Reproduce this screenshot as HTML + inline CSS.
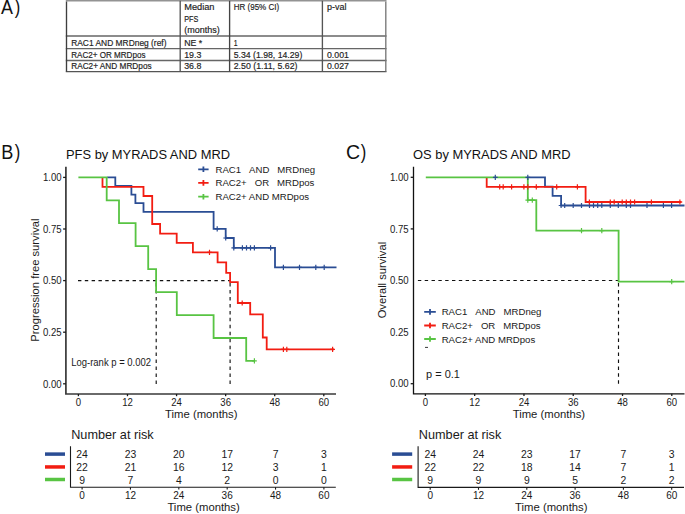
<!DOCTYPE html>
<html><head><meta charset="utf-8"><style>
html,body{margin:0;padding:0;background:#fff;}
body{width:685px;height:514px;overflow:hidden;position:relative;}
svg{position:absolute;left:0;top:0;}
text{font-family:"Liberation Sans",sans-serif;}
</style></head><body>
<svg width="685" height="514" viewBox="0 0 685 514">

<text transform="translate(1.1 14) scale(0.92 1)" font-size="19.5" fill="#111">A</text>
<text transform="translate(14.75 14) scale(0.85 1)" font-size="19.5" fill="#111">)</text>
<line x1="65.8" y1="0.75" x2="386.5" y2="0.75" stroke="#939393" stroke-width="1.5"/>
<line x1="65.8" y1="36.0" x2="386.5" y2="36.0" stroke="#666" stroke-width="1.3"/>
<line x1="65.8" y1="48.6" x2="386.5" y2="48.6" stroke="#666" stroke-width="1.3"/>
<line x1="65.8" y1="60.5" x2="386.5" y2="60.5" stroke="#666" stroke-width="1.3"/>
<line x1="65.8" y1="71.6" x2="386.5" y2="71.6" stroke="#555" stroke-width="1.4"/>
<line x1="66.5" y1="1.5" x2="66.5" y2="71.6" stroke="#3e3e3e" stroke-width="1.35"/>
<line x1="180.2" y1="0.75" x2="180.2" y2="71.6" stroke="#555" stroke-width="1.35"/>
<line x1="229.6" y1="0.75" x2="229.6" y2="71.6" stroke="#444" stroke-width="1.35"/>
<line x1="322.4" y1="0.75" x2="322.4" y2="71.6" stroke="#555" stroke-width="1.35"/>
<line x1="385.8" y1="1.5" x2="385.8" y2="71.6" stroke="#777" stroke-width="1.35"/>
<text x="184.2" y="10.1" font-size="9.0" fill="#1e1e1e" stroke="#1e1e1e" stroke-width="0.18" textLength="30.3" lengthAdjust="spacingAndGlyphs">Median</text>
<text x="184.2" y="21.9" font-size="9.0" fill="#1e1e1e" stroke="#1e1e1e" stroke-width="0.18" textLength="14.1" lengthAdjust="spacingAndGlyphs">PFS</text>
<text x="184.2" y="33.3" font-size="9.0" fill="#1e1e1e" stroke="#1e1e1e" stroke-width="0.18" textLength="35.5" lengthAdjust="spacingAndGlyphs">(months)</text>
<text x="233.7" y="10.1" font-size="9.0" fill="#1e1e1e" stroke="#1e1e1e" stroke-width="0.18" textLength="45.5" lengthAdjust="spacingAndGlyphs">HR (95% CI)</text>
<text x="327" y="10.1" font-size="9.0" fill="#1e1e1e" stroke="#1e1e1e" stroke-width="0.18" textLength="19.4" lengthAdjust="spacingAndGlyphs">p-val</text>
<text x="71.2" y="45.6" font-size="9.0" fill="#1e1e1e" stroke="#1e1e1e" stroke-width="0.18" textLength="95.3" lengthAdjust="spacingAndGlyphs">RAC1 AND MRDneg (ref)</text>
<text x="71.2" y="57.5" font-size="9.0" fill="#1e1e1e" stroke="#1e1e1e" stroke-width="0.18" textLength="74.3" lengthAdjust="spacingAndGlyphs">RAC2+ OR MRDpos</text>
<text x="71.2" y="69.4" font-size="9.0" fill="#1e1e1e" stroke="#1e1e1e" stroke-width="0.18" textLength="80.4" lengthAdjust="spacingAndGlyphs">RAC2+ AND MRDpos</text>
<text x="184.2" y="45.6" font-size="9.0" fill="#1e1e1e" stroke="#1e1e1e" stroke-width="0.18" textLength="18" lengthAdjust="spacingAndGlyphs">NE *</text>
<text x="184.2" y="57.5" font-size="9.0" fill="#1e1e1e" stroke="#1e1e1e" stroke-width="0.18" textLength="17.2" lengthAdjust="spacingAndGlyphs">19.3</text>
<text x="184.2" y="69.4" font-size="9.0" fill="#1e1e1e" stroke="#1e1e1e" stroke-width="0.18" textLength="17.2" lengthAdjust="spacingAndGlyphs">36.8</text>
<text x="233.7" y="45.6" font-size="9.0" fill="#1e1e1e" stroke="#1e1e1e" stroke-width="0.18" textLength="3.8" lengthAdjust="spacingAndGlyphs">1</text>
<text x="233.7" y="57.5" font-size="9.0" fill="#1e1e1e" stroke="#1e1e1e" stroke-width="0.18" textLength="68.6" lengthAdjust="spacingAndGlyphs">5.34 (1.98, 14.29)</text>
<text x="233.7" y="69.4" font-size="9.0" fill="#1e1e1e" stroke="#1e1e1e" stroke-width="0.18" textLength="63.8" lengthAdjust="spacingAndGlyphs">2.50 (1.11, 5.62)</text>
<text x="327" y="57.5" font-size="9.0" fill="#1e1e1e" stroke="#1e1e1e" stroke-width="0.18" textLength="21.9" lengthAdjust="spacingAndGlyphs">0.001</text>
<text x="327" y="69.4" font-size="9.0" fill="#1e1e1e" stroke="#1e1e1e" stroke-width="0.18" textLength="21.9" lengthAdjust="spacingAndGlyphs">0.027</text>
<text transform="translate(1.2 159) scale(0.93 1)" font-size="19.5" fill="#111">B</text>
<text transform="translate(14.75 159) scale(0.85 1)" font-size="19.5" fill="#111">)</text>
<text x="66" y="159.3" font-size="12.9" text-anchor="start" fill="#111" >PFS by MYRADS AND MRD</text>
<path d="M65.9 166.8V394.0H336" stroke="#3a3a3a" stroke-width="1.7" fill="none"/>
<line x1="63.10000000000001" y1="383.8" x2="65.9" y2="383.8" stroke="#1a1a1a" stroke-width="1.3"/>
<text transform="translate(61.6 387.55) scale(1 1.13)" font-size="9.6" text-anchor="end" fill="#1a1a1a">0.00</text>
<line x1="63.10000000000001" y1="332.2" x2="65.9" y2="332.2" stroke="#1a1a1a" stroke-width="1.3"/>
<text transform="translate(61.6 335.95) scale(1 1.13)" font-size="9.6" text-anchor="end" fill="#1a1a1a">0.25</text>
<line x1="63.10000000000001" y1="280.6" x2="65.9" y2="280.6" stroke="#1a1a1a" stroke-width="1.3"/>
<text transform="translate(61.6 284.35) scale(1 1.13)" font-size="9.6" text-anchor="end" fill="#1a1a1a">0.50</text>
<line x1="63.10000000000001" y1="229.0" x2="65.9" y2="229.0" stroke="#1a1a1a" stroke-width="1.3"/>
<text transform="translate(61.6 232.75) scale(1 1.13)" font-size="9.6" text-anchor="end" fill="#1a1a1a">0.75</text>
<line x1="63.10000000000001" y1="177.4" x2="65.9" y2="177.4" stroke="#1a1a1a" stroke-width="1.3"/>
<text transform="translate(61.6 181.15) scale(1 1.13)" font-size="9.6" text-anchor="end" fill="#1a1a1a">1.00</text>
<line x1="78.4" y1="394.0" x2="78.4" y2="396.2" stroke="#1a1a1a" stroke-width="1.3"/>
<text transform="translate(78.4 405.8) scale(1 1.13)" font-size="9.6" text-anchor="middle" fill="#1a1a1a">0</text>
<line x1="127.48000000000002" y1="394.0" x2="127.48000000000002" y2="396.2" stroke="#1a1a1a" stroke-width="1.3"/>
<text transform="translate(127.48 405.8) scale(1 1.13)" font-size="9.6" text-anchor="middle" fill="#1a1a1a">12</text>
<line x1="176.56" y1="394.0" x2="176.56" y2="396.2" stroke="#1a1a1a" stroke-width="1.3"/>
<text transform="translate(176.56 405.8) scale(1 1.13)" font-size="9.6" text-anchor="middle" fill="#1a1a1a">24</text>
<line x1="225.64" y1="394.0" x2="225.64" y2="396.2" stroke="#1a1a1a" stroke-width="1.3"/>
<text transform="translate(225.64 405.8) scale(1 1.13)" font-size="9.6" text-anchor="middle" fill="#1a1a1a">36</text>
<line x1="274.72" y1="394.0" x2="274.72" y2="396.2" stroke="#1a1a1a" stroke-width="1.3"/>
<text transform="translate(274.72 405.8) scale(1 1.13)" font-size="9.6" text-anchor="middle" fill="#1a1a1a">48</text>
<line x1="323.8" y1="394.0" x2="323.8" y2="396.2" stroke="#1a1a1a" stroke-width="1.3"/>
<text transform="translate(323.8 405.8) scale(1 1.13)" font-size="9.6" text-anchor="middle" fill="#1a1a1a">60</text>
<text x="201.3" y="417.8" font-size="11.3" text-anchor="middle" fill="#1a1a1a" >Time (months)</text>
<text transform="translate(38.6 280.1) rotate(-90)" font-size="11.2" text-anchor="middle" fill="#1a1a1a">Progression free survival</text>
<path d="M78.0 280.6H230.1" stroke="#111" stroke-width="1.15" stroke-dasharray="3.4 3.42" fill="none"/>
<path d="M156.2 383.9V280.6M230.1 383.9V280.6" stroke="#111" stroke-width="1.15" stroke-dasharray="3.5 3.45" fill="none"/>
<path d="M107.2 177.4H115.3V186H131.4V194.6H135.4V203.2H143.5V211.8H213.6V228.8H225.7V238H233.8V247.9H275V267.3H336.5" stroke="#2a4d94" stroke-width="1.8" fill="none" stroke-linejoin="miter" stroke-linecap="butt"/>
<path d="M102.5 177.4H102.5V186.8H143.5V196H152.2V224H160.1V233.6H176.7V242.8H192.9V252.3H217.6V262.4H226.2V272.8H230.1V282.2H237.8V303H250.2V314.3H262.8V337.5H266.7V349.3H334" stroke="#f21d12" stroke-width="1.8" fill="none" stroke-linejoin="miter" stroke-linecap="butt"/>
<path d="M78.4 177.4H106.7V200.3H119V223.2H135.6V246.2H148.2V269.1H156.1V292.1H176.8V315.1H213.6V338H246.2V360.9H254.4" stroke="#58c443" stroke-width="1.8" fill="none" stroke-linejoin="miter" stroke-linecap="butt"/>
<path d="M217.2 226.2V231.4M214.8 228.8H219.6M225.7 235.4V240.6M223.3 238H228.1M233.8 245.3V250.5M231.4 247.9H236.2M242.4 245.3V250.5M240 247.9H244.8M246.5 245.3V250.5M244.1 247.9H248.9M250.5 245.3V250.5M248.1 247.9H252.9M254.4 245.3V250.5M252 247.9H256.8M270.6 245.3V250.5M268.2 247.9H273M283.4 264.7V269.9M281 267.3H285.8M299.5 264.7V269.9M297.1 267.3H301.9M315.8 264.7V269.9M313.4 267.3H318.2M324.2 264.7V269.9M321.8 267.3H326.6" stroke="#2a4d94" stroke-width="1.2" fill="none"/>
<path d="M209.5 249.7V254.9M207.1 252.3H211.9M242.2 300.4V305.6M239.8 303H244.6M283.4 346.7V351.9M281 349.3H285.8M286.8 346.7V351.9M284.4 349.3H289.2M332.6 346.7V351.9M330.2 349.3H335" stroke="#f21d12" stroke-width="1.2" fill="none"/>
<path d="M254.4 358.3V363.5M252 360.9H256.8" stroke="#58c443" stroke-width="1.2" fill="none"/>
<path d="M198.2 169.3H208.6M203.4 166.5V172.10000000000002" stroke="#2a4d94" stroke-width="1.8" fill="none"/>
<text x="215.5" y="172.8" font-size="9.6" text-anchor="start" fill="#1a1a1a" >RAC1&#160;&#160;&#160;AND&#160;&#160;&#160;MRDneg</text>
<path d="M198.2 182.9H208.6M203.4 180.1V185.70000000000002" stroke="#f21d12" stroke-width="1.8" fill="none"/>
<text x="215.5" y="186.4" font-size="9.6" text-anchor="start" fill="#1a1a1a" >RAC2+&#160;&#160;&#160;OR&#160;&#160;&#160;MRDpos</text>
<path d="M198.2 196.7H208.6M203.4 193.89999999999998V199.5" stroke="#58c443" stroke-width="1.8" fill="none"/>
<text x="215.5" y="200.2" font-size="9.6" text-anchor="start" fill="#1a1a1a" >RAC2+ AND MRDpos</text>
<text transform="translate(71.2 365.9) scale(1 1.1)" font-size="9.5" text-anchor="start" fill="#1a1a1a">Log-rank p = 0.002</text>
<text x="346" y="159.1" font-size="19.5" text-anchor="start" fill="#111" >C</text>
<text transform="translate(360.85 159.1) scale(0.85 1)" font-size="19.5" fill="#111">)</text>
<text x="413" y="159.3" font-size="12.9" text-anchor="start" fill="#111" >OS by MYRADS AND MRD</text>
<path d="M413.5 166.8V393.8H684.5" stroke="#111" stroke-width="1.3" fill="none"/>
<line x1="410.7" y1="383.7" x2="413.5" y2="383.7" stroke="#1a1a1a" stroke-width="1.3"/>
<text transform="translate(408.7 387.45) scale(1 1.13)" font-size="9.6" text-anchor="end" fill="#1a1a1a">0.00</text>
<text transform="translate(408.7 335.85) scale(1 1.13)" font-size="9.6" text-anchor="end" fill="#1a1a1a">0.25</text>
<text transform="translate(408.7 284.25) scale(1 1.13)" font-size="9.6" text-anchor="end" fill="#1a1a1a">0.50</text>
<line x1="410.7" y1="228.89999999999998" x2="413.5" y2="228.89999999999998" stroke="#1a1a1a" stroke-width="1.3"/>
<text transform="translate(408.7 232.65) scale(1 1.13)" font-size="9.6" text-anchor="end" fill="#1a1a1a">0.75</text>
<line x1="410.7" y1="177.29999999999998" x2="413.5" y2="177.29999999999998" stroke="#1a1a1a" stroke-width="1.3"/>
<text transform="translate(408.7 181.05) scale(1 1.13)" font-size="9.6" text-anchor="end" fill="#1a1a1a">1.00</text>
<line x1="425.4" y1="393.8" x2="425.4" y2="396.0" stroke="#1a1a1a" stroke-width="1.3"/>
<text transform="translate(425.4 405.8) scale(1 1.13)" font-size="9.6" text-anchor="middle" fill="#1a1a1a">0</text>
<line x1="474.67999999999995" y1="393.8" x2="474.67999999999995" y2="396.0" stroke="#1a1a1a" stroke-width="1.3"/>
<text transform="translate(474.68 405.8) scale(1 1.13)" font-size="9.6" text-anchor="middle" fill="#1a1a1a">12</text>
<line x1="523.96" y1="393.8" x2="523.96" y2="396.0" stroke="#1a1a1a" stroke-width="1.3"/>
<text transform="translate(523.96 405.8) scale(1 1.13)" font-size="9.6" text-anchor="middle" fill="#1a1a1a">24</text>
<line x1="573.24" y1="393.8" x2="573.24" y2="396.0" stroke="#1a1a1a" stroke-width="1.3"/>
<text transform="translate(573.24 405.8) scale(1 1.13)" font-size="9.6" text-anchor="middle" fill="#1a1a1a">36</text>
<line x1="622.52" y1="393.8" x2="622.52" y2="396.0" stroke="#1a1a1a" stroke-width="1.3"/>
<text transform="translate(622.52 405.8) scale(1 1.13)" font-size="9.6" text-anchor="middle" fill="#1a1a1a">48</text>
<line x1="671.8" y1="393.8" x2="671.8" y2="396.0" stroke="#1a1a1a" stroke-width="1.3"/>
<text transform="translate(671.8 405.8) scale(1 1.13)" font-size="9.6" text-anchor="middle" fill="#1a1a1a">60</text>
<text x="548.9" y="418" font-size="11.3" text-anchor="middle" fill="#1a1a1a" >Time (months)</text>
<text transform="translate(385.9 280.1) rotate(-90)" font-size="11.2" text-anchor="middle" fill="#1a1a1a">Overall survival</text>
<path d="M417.9 280.5H618.5" stroke="#111" stroke-width="1.15" stroke-dasharray="3.4 3.42" fill="none"/>
<path d="M618.5 383.8V280.5" stroke="#111" stroke-width="1.15" stroke-dasharray="3.5 3.45" fill="none"/>
<path d="M528.3 177.3H545V186.6H552.6V195.9H561.1V205.5H684.5" stroke="#2a4d94" stroke-width="1.8" fill="none" stroke-linejoin="miter" stroke-linecap="butt"/>
<path d="M486.7 177.3H486.7V186.8H585.6V202H681.5" stroke="#f21d12" stroke-width="1.8" fill="none" stroke-linejoin="miter" stroke-linecap="butt"/>
<path d="M425.8 177.3H527.8V200.2H536.3V230.7H618.6V281.7H684.5" stroke="#58c443" stroke-width="1.8" fill="none" stroke-linejoin="miter" stroke-linecap="butt"/>
<path d="M495.3 174.7V179.9M492.9 177.3H497.7M527.8 174.7V179.9M525.4 177.3H530.2M561.1 202.9V208.1M558.7 205.5H563.5M564.7 202.9V208.1M562.3 205.5H567.1M573.2 202.9V208.1M570.8 205.5H575.6M581.5 202.9V208.1M579.1 205.5H583.9M589.5 202.9V208.1M587.1 205.5H591.9M593.5 202.9V208.1M591.1 205.5H595.9M597.7 202.9V208.1M595.3 205.5H600.1M601.8 202.9V208.1M599.4 205.5H604.2M610.3 202.9V208.1M607.9 205.5H612.7M618.3 202.9V208.1M615.9 205.5H620.7M626.3 202.9V208.1M623.9 205.5H628.7M630.5 202.9V208.1M628.1 205.5H632.9M647 202.9V208.1M644.6 205.5H649.4M663.4 202.9V208.1M661 205.5H665.8M671.6 202.9V208.1M669.2 205.5H674" stroke="#2a4d94" stroke-width="1.2" fill="none"/>
<path d="M499.7 184.2V189.4M497.3 186.8H502.1M503.2 184.2V189.4M500.8 186.8H505.6M511.6 184.2V189.4M509.2 186.8H514M523.9 184.2V189.4M521.5 186.8H526.3M527.8 184.2V189.4M525.4 186.8H530.2M536.3 184.2V189.4M533.9 186.8H538.7M556.7 184.2V189.4M554.3 186.8H559.1M577.4 184.2V189.4M575 186.8H579.8M589.4 199.4V204.6M587 202H591.8M610.3 199.4V204.6M607.9 202H612.7M614.2 199.4V204.6M611.8 202H616.6M622.2 199.4V204.6M619.8 202H624.6M626.3 199.4V204.6M623.9 202H628.7M630.5 199.4V204.6M628.1 202H632.9M634.6 199.4V204.6M632.2 202H637M651.4 199.4V204.6M649 202H653.8M679.9 199.4V204.6M677.5 202H682.3" stroke="#f21d12" stroke-width="1.2" fill="none"/>
<path d="M527.8 197.6V202.8M525.4 200.2H530.2M532.3 197.6V202.8M529.9 200.2H534.7M581.5 228.1V233.3M579.1 230.7H583.9M601.8 228.1V233.3M599.4 230.7H604.2M671.7 279.1V284.3M669.3 281.7H674.1" stroke="#58c443" stroke-width="1.2" fill="none"/>
<path d="M424.2 311.9H435.8M430 309.09999999999997V314.7" stroke="#2a4d94" stroke-width="1.8" fill="none"/>
<text x="441.7" y="315.4" font-size="9.6" text-anchor="start" fill="#1a1a1a" >RAC1&#160;&#160;&#160;AND&#160;&#160;&#160;MRDneg</text>
<path d="M424.2 325.5H435.8M430 322.7V328.3" stroke="#f21d12" stroke-width="1.8" fill="none"/>
<text x="441.7" y="329" font-size="9.6" text-anchor="start" fill="#1a1a1a" >RAC2+&#160;&#160;&#160;OR&#160;&#160;&#160;MRDpos</text>
<path d="M424.2 339.0H435.8M430 336.2V341.8" stroke="#58c443" stroke-width="1.8" fill="none"/>
<text x="441.7" y="342.5" font-size="9.6" text-anchor="start" fill="#1a1a1a" >RAC2+ AND MRDpos</text>
<line x1="425" y1="347.4" x2="428" y2="347.4" stroke="#222" stroke-width="0.9"/>
<text transform="translate(426 377.8) scale(1 1.05)" font-size="11.0" text-anchor="start" fill="#1a1a1a">p = 0.1</text>
<text x="71.2" y="438.6" font-size="12.7" text-anchor="start" fill="#1a1a1a" >Number at risk</text>
<line x1="45" y1="454.1" x2="65" y2="454.1" stroke="#2a4d94" stroke-width="3.5"/>
<line x1="45" y1="466.95" x2="65" y2="466.95" stroke="#f21d12" stroke-width="3.5"/>
<line x1="45" y1="479.5" x2="65" y2="479.5" stroke="#58c443" stroke-width="3.5"/>
<path d="M70.5 446.2V487.2H335.8" stroke="#1a1a1a" stroke-width="1.1" fill="none"/>
<line x1="82.1" y1="487.2" x2="82.1" y2="489.59999999999997" stroke="#1a1a1a" stroke-width="1.1"/>
<text x="82.1" y="498.6" font-size="10" text-anchor="middle" fill="#1a1a1a" >0</text>
<text x="82.1" y="458" font-size="10.4" text-anchor="middle" fill="#1a1a1a" >24</text>
<text x="82.1" y="470.6" font-size="10.4" text-anchor="middle" fill="#1a1a1a" >22</text>
<text x="82.1" y="484" font-size="10.4" text-anchor="middle" fill="#1a1a1a" >9</text>
<line x1="130.45999999999998" y1="487.2" x2="130.45999999999998" y2="489.59999999999997" stroke="#1a1a1a" stroke-width="1.1"/>
<text x="130.46" y="498.6" font-size="10" text-anchor="middle" fill="#1a1a1a" >12</text>
<text x="130.46" y="458" font-size="10.4" text-anchor="middle" fill="#1a1a1a" >23</text>
<text x="130.46" y="470.6" font-size="10.4" text-anchor="middle" fill="#1a1a1a" >21</text>
<text x="130.46" y="484" font-size="10.4" text-anchor="middle" fill="#1a1a1a" >7</text>
<line x1="178.82" y1="487.2" x2="178.82" y2="489.59999999999997" stroke="#1a1a1a" stroke-width="1.1"/>
<text x="178.82" y="498.6" font-size="10" text-anchor="middle" fill="#1a1a1a" >24</text>
<text x="178.82" y="458" font-size="10.4" text-anchor="middle" fill="#1a1a1a" >20</text>
<text x="178.82" y="470.6" font-size="10.4" text-anchor="middle" fill="#1a1a1a" >16</text>
<text x="178.82" y="484" font-size="10.4" text-anchor="middle" fill="#1a1a1a" >4</text>
<line x1="227.17999999999998" y1="487.2" x2="227.17999999999998" y2="489.59999999999997" stroke="#1a1a1a" stroke-width="1.1"/>
<text x="227.18" y="498.6" font-size="10" text-anchor="middle" fill="#1a1a1a" >36</text>
<text x="227.18" y="458" font-size="10.4" text-anchor="middle" fill="#1a1a1a" >17</text>
<text x="227.18" y="470.6" font-size="10.4" text-anchor="middle" fill="#1a1a1a" >12</text>
<text x="227.18" y="484" font-size="10.4" text-anchor="middle" fill="#1a1a1a" >2</text>
<line x1="275.53999999999996" y1="487.2" x2="275.53999999999996" y2="489.59999999999997" stroke="#1a1a1a" stroke-width="1.1"/>
<text x="275.54" y="498.6" font-size="10" text-anchor="middle" fill="#1a1a1a" >48</text>
<text x="275.54" y="458" font-size="10.4" text-anchor="middle" fill="#1a1a1a" >7</text>
<text x="275.54" y="470.6" font-size="10.4" text-anchor="middle" fill="#1a1a1a" >3</text>
<text x="275.54" y="484" font-size="10.4" text-anchor="middle" fill="#1a1a1a" >0</text>
<line x1="323.9" y1="487.2" x2="323.9" y2="489.59999999999997" stroke="#1a1a1a" stroke-width="1.1"/>
<text x="323.9" y="498.6" font-size="10" text-anchor="middle" fill="#1a1a1a" >60</text>
<text x="323.9" y="458" font-size="10.4" text-anchor="middle" fill="#1a1a1a" >3</text>
<text x="323.9" y="470.6" font-size="10.4" text-anchor="middle" fill="#1a1a1a" >1</text>
<text x="323.9" y="484" font-size="10.4" text-anchor="middle" fill="#1a1a1a" >0</text>
<text x="203.6" y="511.2" font-size="11.3" text-anchor="middle" fill="#1a1a1a" >Time (months)</text>
<text x="418.8" y="438.6" font-size="12.7" text-anchor="start" fill="#1a1a1a" >Number at risk</text>
<line x1="392.1" y1="454.1" x2="412.2" y2="454.1" stroke="#2a4d94" stroke-width="3.5"/>
<line x1="392.1" y1="466.95" x2="412.2" y2="466.95" stroke="#f21d12" stroke-width="3.5"/>
<line x1="392.1" y1="479.5" x2="412.2" y2="479.5" stroke="#58c443" stroke-width="3.5"/>
<path d="M418.1 446.2V487.4H684" stroke="#1a1a1a" stroke-width="1.1" fill="none"/>
<line x1="430.2" y1="487.4" x2="430.2" y2="489.79999999999995" stroke="#1a1a1a" stroke-width="1.1"/>
<text x="430.2" y="498.6" font-size="10" text-anchor="middle" fill="#1a1a1a" >0</text>
<text x="430.2" y="458" font-size="10.4" text-anchor="middle" fill="#1a1a1a" >24</text>
<text x="430.2" y="470.6" font-size="10.4" text-anchor="middle" fill="#1a1a1a" >22</text>
<text x="430.2" y="484" font-size="10.4" text-anchor="middle" fill="#1a1a1a" >9</text>
<line x1="478.5" y1="487.4" x2="478.5" y2="489.79999999999995" stroke="#1a1a1a" stroke-width="1.1"/>
<text x="478.5" y="498.6" font-size="10" text-anchor="middle" fill="#1a1a1a" >12</text>
<text x="478.5" y="458" font-size="10.4" text-anchor="middle" fill="#1a1a1a" >24</text>
<text x="478.5" y="470.6" font-size="10.4" text-anchor="middle" fill="#1a1a1a" >22</text>
<text x="478.5" y="484" font-size="10.4" text-anchor="middle" fill="#1a1a1a" >9</text>
<line x1="526.8" y1="487.4" x2="526.8" y2="489.79999999999995" stroke="#1a1a1a" stroke-width="1.1"/>
<text x="526.8" y="498.6" font-size="10" text-anchor="middle" fill="#1a1a1a" >24</text>
<text x="526.8" y="458" font-size="10.4" text-anchor="middle" fill="#1a1a1a" >23</text>
<text x="526.8" y="470.6" font-size="10.4" text-anchor="middle" fill="#1a1a1a" >18</text>
<text x="526.8" y="484" font-size="10.4" text-anchor="middle" fill="#1a1a1a" >9</text>
<line x1="575.0999999999999" y1="487.4" x2="575.0999999999999" y2="489.79999999999995" stroke="#1a1a1a" stroke-width="1.1"/>
<text x="575.1" y="498.6" font-size="10" text-anchor="middle" fill="#1a1a1a" >36</text>
<text x="575.1" y="458" font-size="10.4" text-anchor="middle" fill="#1a1a1a" >17</text>
<text x="575.1" y="470.6" font-size="10.4" text-anchor="middle" fill="#1a1a1a" >14</text>
<text x="575.1" y="484" font-size="10.4" text-anchor="middle" fill="#1a1a1a" >5</text>
<line x1="623.4" y1="487.4" x2="623.4" y2="489.79999999999995" stroke="#1a1a1a" stroke-width="1.1"/>
<text x="623.4" y="498.6" font-size="10" text-anchor="middle" fill="#1a1a1a" >48</text>
<text x="623.4" y="458" font-size="10.4" text-anchor="middle" fill="#1a1a1a" >7</text>
<text x="623.4" y="470.6" font-size="10.4" text-anchor="middle" fill="#1a1a1a" >7</text>
<text x="623.4" y="484" font-size="10.4" text-anchor="middle" fill="#1a1a1a" >2</text>
<line x1="671.7" y1="487.4" x2="671.7" y2="489.79999999999995" stroke="#1a1a1a" stroke-width="1.1"/>
<text x="671.7" y="498.6" font-size="10" text-anchor="middle" fill="#1a1a1a" >60</text>
<text x="671.7" y="458" font-size="10.4" text-anchor="middle" fill="#1a1a1a" >3</text>
<text x="671.7" y="470.6" font-size="10.4" text-anchor="middle" fill="#1a1a1a" >1</text>
<text x="671.7" y="484" font-size="10.4" text-anchor="middle" fill="#1a1a1a" >2</text>
<text x="551.3" y="510.8" font-size="11.3" text-anchor="middle" fill="#1a1a1a" >Time (months)</text>
</svg>
</body></html>
